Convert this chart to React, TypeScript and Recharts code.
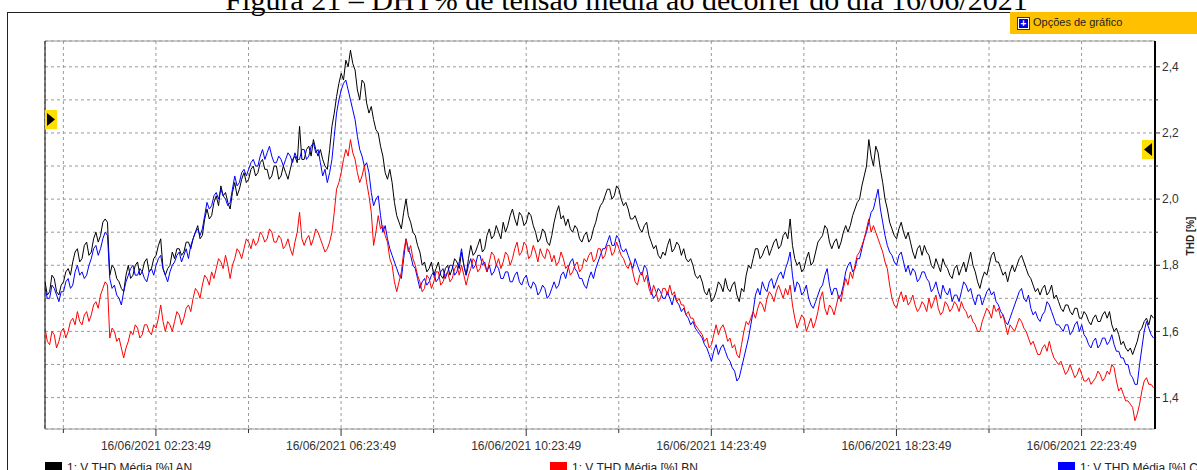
import React from "react";
import { CartesianGrid, Line, LineChart, ReferenceLine, XAxis, YAxis } from "recharts";

// THD samples, one every 3 minutes starting at 00:00:00 on 16/06/2021
const SAMPLE_STEP_MIN = 3;

const thdAN = [
  1.75, 1.71, 1.72, 1.77, 1.76, 1.72, 1.71, 1.74, 1.75, 1.78, 1.79, 1.77, 1.81, 1.84, 1.85, 1.81, 1.82, 1.86, 1.87, 1.83,
  1.84, 1.88, 1.90, 1.87, 1.89, 1.93, 1.94, 1.93, 1.77, 1.80, 1.79, 1.76, 1.75, 1.73, 1.72, 1.77, 1.80, 1.76, 1.77, 1.80,
  1.81, 1.77, 1.78, 1.81, 1.82, 1.78, 1.79, 1.82, 1.83, 1.86, 1.88, 1.79, 1.77, 1.79, 1.80, 1.84, 1.82, 1.85, 1.85, 1.83,
  1.84, 1.87, 1.87, 1.85, 1.88, 1.90, 1.92, 1.88, 1.89, 1.94, 1.97, 1.94, 1.95, 1.99, 2.01, 1.98, 2.04, 2.01, 2.02, 1.99,
  1.97, 2.02, 2.05, 2.01, 2.03, 2.06, 2.08, 2.05, 2.06, 2.09, 2.10, 2.07, 2.08, 2.11, 2.12, 2.09, 2.09, 2.06, 2.07, 2.10,
  2.10, 2.06, 2.07, 2.10, 2.08, 2.06, 2.09, 2.12, 2.13, 2.11, 2.22, 2.12, 2.12, 2.15, 2.16, 2.13, 2.18, 2.15, 2.13, 2.15,
  2.12, 2.10, 2.09, 2.15, 2.22, 2.26, 2.31, 2.35, 2.38, 2.36, 2.42, 2.40, 2.45, 2.41, 2.39, 2.33, 2.30, 2.36, 2.35, 2.29,
  2.26, 2.28, 2.24, 2.21, 2.20, 2.16, 2.13, 2.08, 2.06, 2.09, 2.05, 1.99, 1.95, 1.93, 1.91, 1.96, 2.00, 1.95, 1.93, 1.90,
  1.89, 1.86, 1.84, 1.80, 1.81, 1.78, 1.79, 1.81, 1.77, 1.79, 1.81, 1.77, 1.76, 1.79, 1.80, 1.77, 1.79, 1.82, 1.81, 1.79,
  1.84, 1.80, 1.77, 1.82, 1.86, 1.83, 1.84, 1.86, 1.88, 1.84, 1.85, 1.89, 1.91, 1.88, 1.89, 1.92, 1.90, 1.88, 1.93, 1.90,
  1.92, 1.95, 1.97, 1.94, 1.92, 1.96, 1.95, 1.92, 1.93, 1.96, 1.95, 1.92, 1.90, 1.87, 1.88, 1.91, 1.90, 1.87, 1.86, 1.89,
  1.93, 1.96, 1.98, 1.94, 1.95, 1.92, 1.94, 1.91, 1.90, 1.92, 1.91, 1.88, 1.87, 1.89, 1.90, 1.87, 1.88, 1.91, 1.93, 1.96,
  1.98, 1.99, 2.01, 2.03, 2.03, 2.00, 2.01, 2.04, 2.03, 2.00, 1.98, 1.99, 1.97, 1.94, 1.94, 1.95, 1.93, 1.91, 1.90, 1.92,
  1.93, 1.89, 1.87, 1.85, 1.86, 1.83, 1.82, 1.84, 1.83, 1.86, 1.88, 1.84, 1.85, 1.87, 1.86, 1.83, 1.85, 1.82, 1.81, 1.82,
  1.80, 1.77, 1.76, 1.77, 1.75, 1.72, 1.71, 1.73, 1.69, 1.70, 1.72, 1.75, 1.74, 1.72, 1.76, 1.73, 1.72, 1.74, 1.75, 1.71,
  1.69, 1.73, 1.72, 1.77, 1.80, 1.79, 1.82, 1.85, 1.85, 1.82, 1.83, 1.85, 1.86, 1.83, 1.85, 1.87, 1.88, 1.85, 1.86, 1.89,
  1.90, 1.88, 1.94, 1.86, 1.82, 1.80, 1.81, 1.78, 1.79, 1.82, 1.84, 1.80, 1.81, 1.84, 1.87, 1.88, 1.89, 1.92, 1.91, 1.87,
  1.85, 1.87, 1.88, 1.85, 1.87, 1.90, 1.92, 1.90, 1.92, 1.95, 1.97, 1.99, 2.00, 2.04, 2.07, 2.10, 2.18, 2.13, 2.10, 2.16,
  2.14, 2.09, 2.05, 2.00, 1.97, 1.93, 1.91, 1.89, 1.88, 1.91, 1.93, 1.90, 1.88, 1.90, 1.87, 1.84, 1.82, 1.85, 1.86, 1.83,
  1.86, 1.84, 1.83, 1.80, 1.79, 1.82, 1.80, 1.78, 1.82, 1.80, 1.79, 1.77, 1.76, 1.79, 1.80, 1.77, 1.79, 1.81, 1.78, 1.81,
  1.84, 1.80, 1.78, 1.75, 1.73, 1.76, 1.78, 1.77, 1.80, 1.83, 1.84, 1.81, 1.81, 1.79, 1.77, 1.78, 1.75, 1.78, 1.80, 1.78,
  1.80, 1.82, 1.83, 1.81, 1.79, 1.77, 1.76, 1.74, 1.72, 1.73, 1.71, 1.73, 1.74, 1.71, 1.72, 1.74, 1.70, 1.71, 1.69, 1.67,
  1.66, 1.68, 1.68, 1.66, 1.65, 1.67, 1.67, 1.64, 1.64, 1.66, 1.65, 1.63, 1.62, 1.64, 1.65, 1.63, 1.63, 1.65, 1.66, 1.64,
  1.66, 1.62, 1.60, 1.61, 1.59, 1.56, 1.57, 1.55, 1.54, 1.55, 1.53, 1.55, 1.57, 1.60, 1.61, 1.63, 1.64, 1.62, 1.65, 1.64,
];

const thdBN = [
  1.61, 1.57, 1.56, 1.60, 1.59, 1.55, 1.57, 1.60, 1.61, 1.58, 1.60, 1.63, 1.64, 1.62, 1.66, 1.63, 1.62, 1.65, 1.66, 1.63,
  1.65, 1.68, 1.69, 1.67, 1.71, 1.73, 1.75, 1.74, 1.58, 1.61, 1.60, 1.57, 1.58, 1.55, 1.52, 1.55, 1.57, 1.60, 1.59, 1.62,
  1.61, 1.58, 1.59, 1.62, 1.62, 1.60, 1.59, 1.62, 1.61, 1.64, 1.68, 1.63, 1.60, 1.63, 1.62, 1.60, 1.63, 1.66, 1.65, 1.62,
  1.64, 1.67, 1.68, 1.66, 1.70, 1.73, 1.72, 1.70, 1.74, 1.77, 1.76, 1.74, 1.78, 1.76, 1.79, 1.82, 1.81, 1.79, 1.83, 1.80,
  1.76, 1.80, 1.82, 1.85, 1.84, 1.82, 1.85, 1.88, 1.87, 1.85, 1.88, 1.86, 1.87, 1.90, 1.89, 1.87, 1.88, 1.91, 1.90, 1.87,
  1.87, 1.89, 1.88, 1.85, 1.86, 1.88, 1.85, 1.83, 1.87, 1.90, 1.96, 1.88, 1.86, 1.88, 1.89, 1.86, 1.88, 1.91, 1.90, 1.88,
  1.86, 1.84, 1.85, 1.87, 1.90, 1.96, 2.03, 2.05, 2.08, 2.12, 2.15, 2.13, 2.18, 2.14, 2.12, 2.08, 2.05, 2.07, 2.10, 2.05,
  2.01, 1.96, 1.86, 1.90, 1.95, 1.91, 1.92, 1.89, 1.87, 1.82, 1.80, 1.75, 1.72, 1.75, 1.78, 1.84, 1.88, 1.84, 1.86, 1.82,
  1.80, 1.77, 1.75, 1.72, 1.73, 1.77, 1.76, 1.73, 1.75, 1.78, 1.78, 1.74, 1.75, 1.77, 1.78, 1.75, 1.76, 1.79, 1.80, 1.77,
  1.80, 1.77, 1.74, 1.77, 1.79, 1.82, 1.81, 1.78, 1.79, 1.82, 1.80, 1.78, 1.81, 1.84, 1.83, 1.80, 1.82, 1.79, 1.81, 1.84,
  1.83, 1.80, 1.82, 1.85, 1.87, 1.83, 1.84, 1.87, 1.86, 1.82, 1.83, 1.86, 1.84, 1.81, 1.85, 1.83, 1.82, 1.85, 1.84, 1.81,
  1.83, 1.80, 1.81, 1.84, 1.82, 1.79, 1.80, 1.77, 1.78, 1.80, 1.81, 1.78, 1.79, 1.82, 1.81, 1.83, 1.84, 1.81, 1.82, 1.85,
  1.85, 1.82, 1.83, 1.86, 1.86, 1.83, 1.84, 1.87, 1.85, 1.83, 1.82, 1.80, 1.79, 1.81, 1.78, 1.75, 1.74, 1.77, 1.78, 1.75,
  1.77, 1.73, 1.71, 1.74, 1.72, 1.69, 1.70, 1.73, 1.73, 1.71, 1.74, 1.71, 1.72, 1.69, 1.70, 1.68, 1.68, 1.65, 1.66, 1.64,
  1.64, 1.62, 1.61, 1.60, 1.59, 1.57, 1.58, 1.55, 1.56, 1.59, 1.62, 1.59, 1.61, 1.62, 1.60, 1.57, 1.58, 1.55, 1.56, 1.53,
  1.52, 1.56, 1.60, 1.63, 1.62, 1.64, 1.66, 1.64, 1.67, 1.69, 1.68, 1.66, 1.70, 1.72, 1.71, 1.69, 1.72, 1.74, 1.72, 1.70,
  1.73, 1.71, 1.74, 1.68, 1.64, 1.61, 1.63, 1.65, 1.64, 1.60, 1.62, 1.64, 1.61, 1.63, 1.66, 1.70, 1.72, 1.67, 1.65, 1.68,
  1.67, 1.65, 1.68, 1.71, 1.69, 1.73, 1.76, 1.74, 1.78, 1.76, 1.80, 1.83, 1.84, 1.86, 1.88, 1.91, 1.94, 1.90, 1.92, 1.90,
  1.88, 1.86, 1.84, 1.81, 1.79, 1.74, 1.70, 1.68, 1.67, 1.70, 1.72, 1.69, 1.71, 1.68, 1.69, 1.71, 1.68, 1.66, 1.67, 1.69,
  1.68, 1.66, 1.70, 1.67, 1.69, 1.71, 1.67, 1.65, 1.66, 1.69, 1.68, 1.66, 1.67, 1.69, 1.68, 1.66, 1.69, 1.67, 1.66, 1.64,
  1.65, 1.63, 1.62, 1.60, 1.60, 1.63, 1.65, 1.67, 1.66, 1.64, 1.68, 1.66, 1.67, 1.64, 1.65, 1.62, 1.59, 1.62, 1.61, 1.60,
  1.62, 1.64, 1.63, 1.61, 1.60, 1.58, 1.56, 1.57, 1.55, 1.53, 1.53, 1.55, 1.56, 1.54, 1.57, 1.54, 1.52, 1.51, 1.50, 1.51,
  1.49, 1.47, 1.48, 1.50, 1.48, 1.46, 1.47, 1.49, 1.47, 1.45, 1.45, 1.46, 1.44, 1.45, 1.46, 1.48, 1.47, 1.45, 1.46, 1.48,
  1.47, 1.50, 1.49, 1.45, 1.42, 1.43, 1.41, 1.39, 1.39, 1.38, 1.37, 1.33, 1.35, 1.38, 1.42, 1.45, 1.46, 1.44, 1.44, 1.43,
];

const thdCN = [
  1.73, 1.70, 1.70, 1.74, 1.73, 1.71, 1.69, 1.72, 1.72, 1.75, 1.76, 1.73, 1.74, 1.78, 1.80, 1.77, 1.78, 1.76, 1.77, 1.80,
  1.82, 1.85, 1.86, 1.83, 1.85, 1.88, 1.90, 1.89, 1.76, 1.73, 1.74, 1.71, 1.70, 1.68, 1.72, 1.75, 1.77, 1.79, 1.80, 1.77,
  1.77, 1.79, 1.78, 1.76, 1.75, 1.78, 1.79, 1.77, 1.80, 1.82, 1.83, 1.79, 1.77, 1.75, 1.78, 1.80, 1.81, 1.83, 1.84, 1.81,
  1.83, 1.85, 1.82, 1.86, 1.88, 1.90, 1.91, 1.89, 1.91, 1.95, 1.99, 1.97, 1.98, 2.01, 2.02, 2.00, 2.03, 2.01, 2.00, 1.98,
  1.99, 2.03, 2.07, 2.04, 2.05, 2.08, 2.09, 2.07, 2.09, 2.11, 2.12, 2.10, 2.10, 2.13, 2.15, 2.12, 2.14, 2.16, 2.13, 2.11,
  2.11, 2.13, 2.12, 2.10, 2.12, 2.14, 2.13, 2.11, 2.14, 2.12, 2.12, 2.15, 2.15, 2.12, 2.13, 2.16, 2.17, 2.14, 2.15, 2.11,
  2.07, 2.09, 2.05, 2.08, 2.12, 2.19, 2.26, 2.30, 2.33, 2.35, 2.36, 2.33, 2.30, 2.27, 2.24, 2.19, 2.15, 2.13, 2.10, 2.11,
  2.08, 2.02, 1.98, 2.00, 2.01, 1.95, 1.90, 1.92, 1.88, 1.85, 1.83, 1.81, 1.79, 1.77, 1.76, 1.82, 1.88, 1.85, 1.83, 1.80,
  1.79, 1.76, 1.73, 1.75, 1.76, 1.74, 1.75, 1.77, 1.78, 1.75, 1.76, 1.78, 1.79, 1.76, 1.78, 1.80, 1.80, 1.77, 1.78, 1.81,
  1.85, 1.80, 1.77, 1.80, 1.82, 1.79, 1.80, 1.83, 1.83, 1.80, 1.81, 1.78, 1.80, 1.77, 1.78, 1.80, 1.79, 1.76, 1.76, 1.78,
  1.78, 1.75, 1.75, 1.77, 1.78, 1.75, 1.74, 1.76, 1.77, 1.74, 1.73, 1.75, 1.74, 1.71, 1.72, 1.74, 1.73, 1.70, 1.71, 1.73,
  1.75, 1.73, 1.74, 1.77, 1.78, 1.76, 1.79, 1.81, 1.82, 1.79, 1.78, 1.76, 1.76, 1.74, 1.73, 1.76, 1.78, 1.76, 1.79, 1.81,
  1.83, 1.85, 1.85, 1.87, 1.89, 1.86, 1.86, 1.89, 1.88, 1.85, 1.84, 1.85, 1.83, 1.81, 1.79, 1.82, 1.80, 1.78, 1.77, 1.80,
  1.79, 1.75, 1.72, 1.70, 1.71, 1.73, 1.72, 1.70, 1.70, 1.72, 1.70, 1.68, 1.71, 1.69, 1.68, 1.66, 1.67, 1.65, 1.64, 1.62,
  1.63, 1.61, 1.60, 1.59, 1.58, 1.56, 1.55, 1.53, 1.51, 1.54, 1.56, 1.53, 1.55, 1.56, 1.54, 1.52, 1.51, 1.49, 1.48, 1.45,
  1.46, 1.49, 1.52, 1.55, 1.58, 1.62, 1.66, 1.71, 1.73, 1.71, 1.75, 1.73, 1.72, 1.75, 1.76, 1.73, 1.75, 1.77, 1.78, 1.76,
  1.79, 1.81, 1.84, 1.77, 1.72, 1.75, 1.74, 1.71, 1.72, 1.74, 1.70, 1.68, 1.67, 1.69, 1.71, 1.73, 1.74, 1.77, 1.79, 1.74,
  1.71, 1.73, 1.73, 1.70, 1.71, 1.74, 1.78, 1.80, 1.81, 1.78, 1.79, 1.82, 1.82, 1.85, 1.88, 1.90, 1.93, 1.96, 1.97, 2.00,
  2.03, 1.97, 1.93, 1.89, 1.86, 1.84, 1.83, 1.81, 1.80, 1.83, 1.84, 1.81, 1.78, 1.80, 1.77, 1.79, 1.78, 1.75, 1.76, 1.78,
  1.78, 1.76, 1.75, 1.72, 1.73, 1.75, 1.72, 1.70, 1.74, 1.72, 1.71, 1.73, 1.69, 1.71, 1.71, 1.69, 1.72, 1.75, 1.74, 1.72,
  1.73, 1.70, 1.68, 1.71, 1.71, 1.68, 1.70, 1.72, 1.73, 1.71, 1.72, 1.69, 1.68, 1.66, 1.65, 1.63, 1.62, 1.64, 1.66, 1.68,
  1.70, 1.72, 1.73, 1.70, 1.69, 1.71, 1.67, 1.65, 1.66, 1.64, 1.63, 1.65, 1.66, 1.69, 1.68, 1.66, 1.64, 1.62, 1.62, 1.61,
  1.60, 1.62, 1.62, 1.59, 1.60, 1.62, 1.63, 1.60, 1.62, 1.59, 1.58, 1.56, 1.55, 1.57, 1.58, 1.55, 1.56, 1.58, 1.58, 1.56,
  1.57, 1.59, 1.56, 1.54, 1.54, 1.52, 1.52, 1.50, 1.50, 1.47, 1.46, 1.44, 1.44, 1.50, 1.55, 1.60, 1.63, 1.61, 1.59, 1.58,
];

const dayLabel = "16/06/2021";
const timeTicks = [
  "00:23:49", "02:23:49", "04:23:49", "06:23:49", "08:23:49", "10:23:49",
  "12:23:49", "14:23:49", "16:23:49", "18:23:49", "20:23:49", "22:23:49",
];
const labeledTimes = ["02:23:49", "06:23:49", "10:23:49", "14:23:49", "18:23:49", "22:23:49"];
const thdTicks = [1.4, 1.5, 1.6, 1.7, 1.8, 1.9, 2.0, 2.1, 2.2, 2.3, 2.4];
const thdLabeled = [1.4, 1.6, 1.8, 2.0, 2.2, 2.4];

const series = [
  { key: "an", name: "1: V THD Média [%] AN", color: "#000000" },
  { key: "bn", name: "1: V THD Média [%] BN", color: "#ff0000" },
  { key: "cn", name: "1: V THD Média [%] CN", color: "#0000ff" },
];

const toMinutes = (s: string) => {
  const [h, m, sec] = s.split(":").map(Number);
  return h * 60 + m + sec / 60;
};

const data = thdAN.map((an, i) => ({
  t: i * SAMPLE_STEP_MIN,
  an,
  bn: thdBN[i],
  cn: thdCN[i],
}));

const W = 1197;
const H = 470;
const PLOT = { left: 45, top: 41, right: 1155, bottom: 429 };
const X_DOMAIN: [number, number] = [0, 1439];
const Y_DOMAIN: [number, number] = [1.305, 2.478];
const FONT = "'Liberation Sans', Arial, sans-serif";

const tickMinutes = timeTicks.map(toMinutes);

function TimeTick(props: any) {
  const { x, y, payload } = props;
  const idx = tickMinutes.findIndex((m) => Math.abs(m - payload.value) < 0.01);
  const label = idx >= 0 && labeledTimes.includes(timeTicks[idx]) ? timeTicks[idx] : null;
  return (
    <g>
      <line x1={x} x2={x} y1={y} y2={y + (label ? 7 : 4)} stroke="#333" />
      {label && (
        <text x={x} y={y + 21} textAnchor="middle" fontSize={12} fill="#333" fontFamily={FONT}>
          {`${dayLabel} ${label}`}
        </text>
      )}
    </g>
  );
}

function ThdTick(props: any) {
  const { x, y, payload } = props;
  const major = thdLabeled.some((v) => Math.abs(v - payload.value) < 1e-6);
  return (
    <g>
      <line x1={x} x2={x + (major ? 5 : 3)} y1={y} y2={y} stroke="#333" />
      {major && (
        <text x={x + 7} y={y} dy="0.35em" fontSize={12} fill="#333" fontFamily={FONT}>
          {payload.value.toFixed(1).replace(".", ",")}
        </text>
      )}
    </g>
  );
}

function Marker({ left, top, dir }: { left: number; top: number; dir: "right" | "left" }) {
  return (
    <svg style={{ position: "absolute", left, top }} width={12} height={19}>
      <rect width={12} height={19} fill="#ffdf00" />
      {dir === "right" ? (
        <polygon points="2,3 10,9.5 2,16" fill="#000" />
      ) : (
        <polygon points="10,3 2,9.5 10,16" fill="#000" />
      )}
    </svg>
  );
}

export default function App() {
  const legendX = [45, 550, 1058];
  return (
    <div
      style={{
        position: "absolute",
        left: 0,
        top: 0,
        width: W,
        height: H,
        overflow: "hidden",
        background: "#fff",
        fontFamily: FONT,
      }}
    >
      <div
        style={{
          position: "absolute",
          left: 0,
          width: W,
          top: -15,
          textAlign: "center",
          paddingLeft: 56,
          boxSizing: "border-box",
          fontFamily: "'Liberation Serif', 'Times New Roman', serif",
          fontSize: 30,
          lineHeight: "30px",
          color: "#000",
          whiteSpace: "nowrap",
        }}
      >
        Figura 21 – DHT% de tensão média ao decorrer do dia 16/06/2021
      </div>

      {/* outer frame of the viewer */}
      <div
        style={{
          position: "absolute",
          left: 7,
          top: 12,
          width: W,
          height: H,
          borderLeft: "1px solid #222",
          borderTop: "1px solid #222",
        }}
      />

      <div
        style={{
          position: "absolute",
          left: 1010,
          top: 12,
          width: W - 1010,
          height: 22,
          background: "#ffc000",
          fontSize: 11,
          color: "#222",
        }}
      >
        <div
          style={{
            position: "absolute",
            left: 8,
            top: 6,
            width: 9,
            height: 9,
            background: "#0000e0",
            border: "1px solid #fff",
            outline: "1px solid #333",
            color: "#fff",
            fontSize: 10,
            lineHeight: "9px",
            textAlign: "center",
            fontWeight: "bold",
          }}
        >
          +
        </div>
        <div style={{ position: "absolute", left: 23, top: 4 }}>Opções de gráfico</div>
      </div>

      <div style={{ position: "absolute", left: 0, top: 0 }}>
        <LineChart
          width={W}
          height={H}
          data={data}
          margin={{ top: PLOT.top, left: PLOT.left, right: W - PLOT.right - 35, bottom: H - PLOT.bottom - 30 }}
        >
          <CartesianGrid stroke="#9a9a9a" strokeDasharray="3 3" />
          <XAxis
            dataKey="t"
            type="number"
            domain={X_DOMAIN}
            allowDataOverflow
            ticks={tickMinutes}
            interval={0}
            tick={<TimeTick />}
            tickSize={0}
            tickMargin={0}
            tickLine={false}
            height={30}
            axisLine={{ stroke: "#9a9a9a" }}
          />
          <YAxis
            orientation="right"
            type="number"
            domain={Y_DOMAIN}
            allowDataOverflow
            ticks={thdTicks}
            interval={0}
            tick={<ThdTick />}
            tickSize={0}
            tickMargin={0}
            tickLine={false}
            width={35}
            axisLine={{ stroke: "#000", strokeWidth: 2 }}
          />
          <ReferenceLine y={Y_DOMAIN[1]} stroke="#9a9a9a" />
          <ReferenceLine x={X_DOMAIN[0]} stroke="#000" />
          <Line type="linear" dataKey="an" stroke="#000000" strokeWidth={1} dot={false} isAnimationActive={false} />
          <Line type="linear" dataKey="cn" stroke="#0000ff" strokeWidth={1} dot={false} isAnimationActive={false} />
          <Line type="linear" dataKey="bn" stroke="#ff0000" strokeWidth={1} dot={false} isAnimationActive={false} />
        </LineChart>
      </div>

      <Marker left={45} top={110} dir="right" />
      <Marker left={1142} top={140} dir="left" />

      <div
        style={{
          position: "absolute",
          left: 1190,
          top: 236,
          transform: "translate(-50%, -50%) rotate(-90deg)",
          fontSize: 10,
          fontWeight: "bold",
          color: "#222",
          whiteSpace: "nowrap",
        }}
      >
        THD [%]
      </div>

      {series.map((s, i) => (
        <div key={s.key} style={{ position: "absolute", left: legendX[i], top: 461, whiteSpace: "nowrap" }}>
          <span
            style={{
              position: "absolute",
              left: 0,
              top: 1,
              width: 17,
              height: 11,
              background: s.color,
            }}
          />
          <span style={{ position: "absolute", left: 22, top: 0, fontSize: 12, color: "#222" }}>{s.name}</span>
        </div>
      ))}
    </div>
  );
}
